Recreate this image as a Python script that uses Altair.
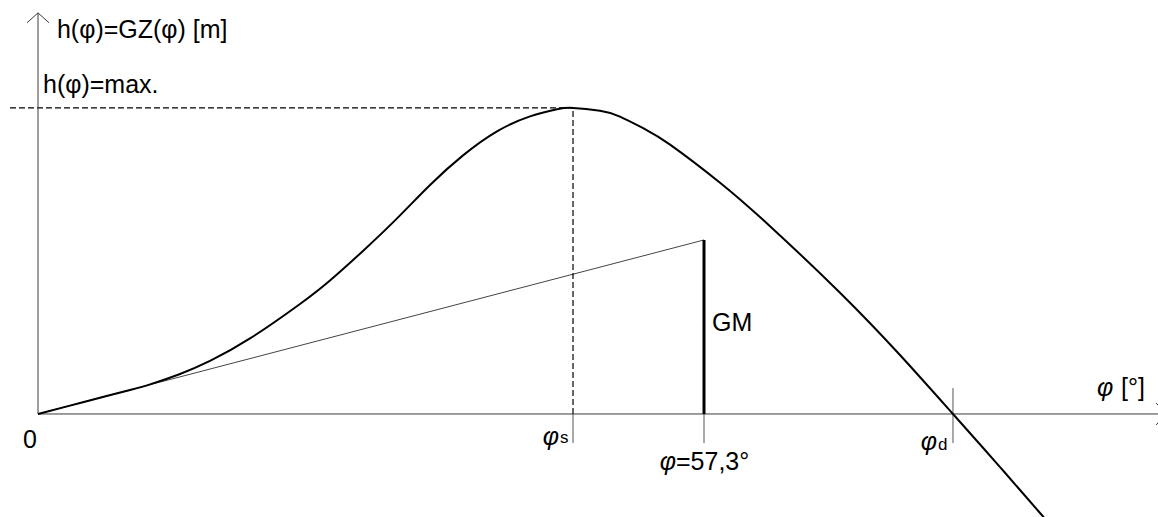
import altair as alt
import pandas as pd

# Righting-lever (GZ) curve: heel angle in degrees, lever in metres
heel_deg = [0, 2.75, 5.33, 7.92, 9.64, 12.22, 14.80, 18.24, 22.54, 25.12,
            27.96, 30.89, 33.73, 36.57, 39.49, 42.33, 44.65, 46.03, 48.35,
            50.07, 52.22, 54.38, 58.68, 62.98, 69.00, 74.16, 78.72, 82.77,
            86.21, 86.64]
gz_m = [0, 0.048, 0.093, 0.138, 0.170, 0.230, 0.305, 0.434, 0.632, 0.767,
        0.937, 1.124, 1.316, 1.486, 1.624, 1.710, 1.751, 1.759, 1.742,
        1.709, 1.637, 1.548, 1.329, 1.079, 0.697, 0.339, 0.0, -0.305,
        -0.569, -0.603]

# characteristic values of the curve
ONE_RAD = 57.3     # 1 rad in degrees
GM = 1.0
PHI_S = 46.03      # angle of the maximum lever
GZ_MAX = 1.759     # maximum lever
PHI_D = 78.72      # angle of vanishing stability

FONT = "Liberation Sans"
INK = "#000000"
AXIS_INK = "#3a3a3a"
FS = 25

x_scale = alt.Scale(domain=[-3.27, 96.36], nice=False, zero=False)
y_scale = alt.Scale(domain=[-0.592, 2.379], nice=False, zero=False)


def xe(field):
    return alt.X(field, type="quantitative", scale=x_scale, axis=None)


def ye(field):
    return alt.Y(field, type="quantitative", scale=y_scale, axis=None)


def segments(rows, **style):
    df = pd.DataFrame(rows, columns=["x", "y", "x2", "y2"])
    return alt.Chart(df).mark_rule(**style).encode(
        x=xe("x"), y=ye("y"), x2="x2:Q", y2="y2:Q"
    )


def labels(rows, **style):
    df = pd.DataFrame(rows, columns=["x", "y", "t"])
    base = dict(font=FONT, color=INK, baseline="middle")
    base.update(style)
    return alt.Chart(df).mark_text(**base).encode(
        x=xe("x"), y=ye("y"), text="t:N"
    )


curve_df = pd.DataFrame({"phi": heel_deg, "gz": gz_m})
curve = alt.Chart(curve_df).mark_line(
    color=INK, strokeWidth=2, interpolate="natural", clip=True
).encode(x=xe("phi"), y=ye("gz"))

# coordinate axes (drawn as plain lines with open arrow heads)
axes = segments(
    [[0, 0, 97.05, 0], [0, 0, 0, 2.305]],
    color=AXIS_INK, strokeWidth=1,
)
arrow_df = pd.DataFrame({"x": [0, 97.05], "y": [2.305, 0], "a": [0, 90]})
arrows = alt.Chart(arrow_df).mark_point(
    shape="M -1 0.9 L 0 0 L 1 0.9", filled=False, size=484,
    color=AXIS_INK, strokeWidth=1, opacity=1,
).encode(x=xe("x"), y=ye("y"), angle=alt.Angle("a:Q", scale=None))

# dashed guides to the maximum
guides = segments(
    [[-2.41, GZ_MAX, PHI_S, GZ_MAX], [PHI_S, 0, PHI_S, GZ_MAX]],
    color=INK, strokeWidth=1.2, strokeDash=[6, 3],
)

# tangent at the origin, reaching GM at 1 rad
tangent = segments([[0, 0, ONE_RAD, GM]], color="#444444", strokeWidth=1)
gm_bar = segments([[ONE_RAD, 0, ONE_RAD, GM]], color=INK, strokeWidth=3)

# short marks on the heel axis
ticks = segments(
    [[PHI_S, 0, PHI_S, -0.167], [ONE_RAD, 0, ONE_RAD, -0.167],
     [PHI_D, 0.149, PHI_D, -0.167]],
    color="#555555", strokeWidth=1,
)

txt_left = labels(
    [[1.63, 2.207, "h(φ)=GZ(φ) [m]"],
     [0.43, 1.891, "h(φ)=max."],
     [57.99, 0.523, "GM"],
     [54.89, -0.276, "=57,3°"],
     [93.18, 0.149, "[°]"]],
    align="left", fontSize=FS,
)
txt_center = labels([[-0.69, -0.149, "0"]], align="center", fontSize=FS)
phi_right = labels(
    [[54.89, -0.276, "φ"], [44.82, -0.132, "φ"], [77.35, -0.161, "φ"]],
    align="right", fontSize=FS, fontStyle="italic",
)
phi_axis = labels([[91.11, 0.149, "φ"]], align="left", fontSize=FS,
                  fontStyle="italic")
subs = labels(
    [[44.9, -0.138, "s"], [77.43, -0.178, "d"]],
    align="left", fontSize=17,
)

chart = alt.layer(
    tangent, guides, ticks, axes, arrows, curve, gm_bar,
    txt_left, txt_center, phi_right, phi_axis, subs,
).properties(
    width=1158, height=517,
    autosize=alt.AutoSizeParams(type="none"),
    padding=0, background="white",
).configure_view(stroke=None)

chart.save("out.html", embed_options={"renderer": "svg", "actions": False})
